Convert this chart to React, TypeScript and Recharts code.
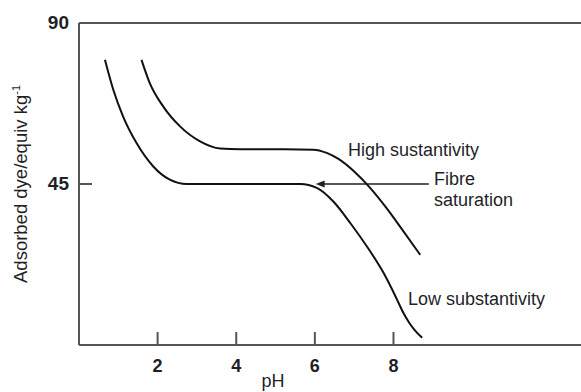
import { LineChart, Line, XAxis, YAxis, ReferenceLine } from "recharts";

// pH values and adsorbed dye
const lowPH = [0.66, 0.87, 1.12, 1.46, 1.89, 2.31, 2.74, 3.2, 4.0, 5.0, 5.63, 6.05, 6.47, 6.9, 7.32, 7.75, 8.09, 8.25, 8.4, 8.55, 8.73];
const lowDye = [79.7, 71.4, 63.9, 56.5, 49.9, 46.2, 45.0, 45.0, 45.0, 45.0, 45.0, 43.9, 40.1, 34.1, 27.6, 20.1, 12.7, 9.0, 6.2, 4.0, 2.0];
const highPH = [1.59, 1.8, 2.14, 2.57, 3.08, 3.59, 4.1, 5.0, 5.96, 6.3, 6.6, 7.0, 7.4, 7.8, 8.2, 8.68];
const highDye = [79.7, 73.2, 66.7, 61.1, 56.9, 54.9, 54.7, 54.7, 54.6, 53.7, 52.0, 48.5, 44.0, 38.6, 32.6, 25.2];

const xTicks = [2, 4, 6, 8];
const yTicks = [45, 90];
const saturation = 45;
const arrowFrom = 8.9;
const arrowTo = 6.02;

const lowData = lowPH.map((ph, i) => ({ ph, dye: lowDye[i] }));
const highData = highPH.map((ph, i) => ({ ph, dye: highDye[i] }));

const FONT = "'Liberation Sans', Arial, Helvetica, sans-serif";
const AXIS = "#555";
const INK = "#1f1f28";

const XTick = ({ x, y, payload }: any) => (
  <g>
    <line x1={x} y1={y} x2={x} y2={y - 13} stroke={AXIS} strokeWidth={2} />
    <text x={x} y={y + 27} textAnchor="middle" fontFamily={FONT} fontWeight="bold" fontSize={18} fill={INK}>
      {payload.value}
    </text>
  </g>
);

const YTick = ({ x, y, payload }: any) => (
  <g>
    <line x1={x} y1={y} x2={x + 13} y2={y} stroke={AXIS} strokeWidth={2} />
    <text x={x - 10} y={y + 6} textAnchor="end" fontFamily={FONT} fontWeight="bold" fontSize={19} fill={INK}>
      {payload.value}
    </text>
  </g>
);

const Arrow = ({ x1, y1, x2, y2 }: any) => {
  const tip = Math.min(x1, x2);
  const tail = Math.max(x1, x2);
  return (
    <g>
      <line x1={tip + 6} y1={y1} x2={tail} y2={y2} stroke="#222" strokeWidth={1.6} />
      <polygon points={`${tip},${y1} ${tip + 9},${y1 - 3.5} ${tip + 9},${y1 + 3.5}`} fill="#222" />
    </g>
  );
};

export default function App() {
  return (
    <div style={{ position: "absolute", left: 0, top: 0, width: 581, height: 392, background: "#fff" }}>
      <LineChart width={581} height={392} margin={{ top: 23, right: 0, bottom: 0, left: 0 }}>
        <XAxis
          type="number"
          dataKey="ph"
          domain={[0, 12.77]}
          ticks={xTicks}
          allowDataOverflow
          height={47}
          tickSize={0}
          tickMargin={0}
          tickLine={false}
          axisLine={{ stroke: AXIS, strokeWidth: 2 }}
          tick={<XTick />}
        />
        <YAxis
          type="number"
          domain={[0, 90]}
          ticks={yTicks}
          width={79}
          tickSize={0}
          tickMargin={0}
          tickLine={false}
          axisLine={{ stroke: AXIS, strokeWidth: 2 }}
          tick={<YTick />}
        />
        <ReferenceLine y={90} stroke={AXIS} strokeWidth={2} />
        <ReferenceLine
          segment={[{ x: arrowTo, y: saturation }, { x: arrowFrom, y: saturation }]}
          shape={<Arrow />}
        />
        <Line data={highData} dataKey="dye" type="monotone" stroke="#111" strokeWidth={2} dot={false} isAnimationActive={false} />
        <Line data={lowData} dataKey="dye" type="monotone" stroke="#111" strokeWidth={2} dot={false} isAnimationActive={false} />
      </LineChart>
      <svg width={581} height={392} style={{ position: "absolute", left: 0, top: 0, pointerEvents: "none" }}>
        <g fontFamily={FONT} fontSize={18} fill={INK}>
          <text x={348} y={156}>High sustantivity</text>
          <text x={434} y={185}>Fibre</text>
          <text x={434} y={206}>saturation</text>
          <text x={408} y={305}>Low substantivity</text>
          <text x={273} y={387} textAnchor="middle">pH</text>
          <text x={27} y={184} textAnchor="middle" fontSize={18.5} transform="rotate(-90 27 184)">
            Adsorbed dye/equiv kg<tspan fontSize={11} dy={-7}>-1</tspan>
          </text>
        </g>
      </svg>
    </div>
  );
}
